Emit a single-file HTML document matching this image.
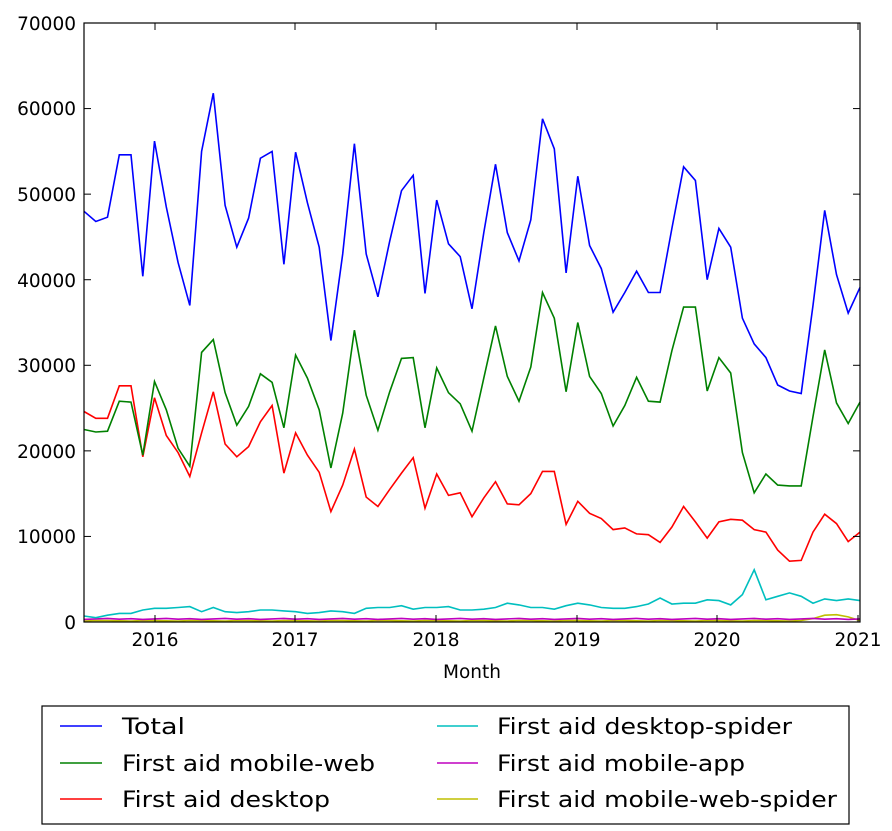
<!DOCTYPE html>
<html><head><meta charset="utf-8"><style>
body{margin:0;background:#fff;}
svg{display:block;font-family:"DejaVu Sans","Liberation Sans",sans-serif;}
</style></head><body>
<svg id="s" width="892" height="831" xmlns="http://www.w3.org/2000/svg">
<rect x="0" y="0" width="892" height="831" fill="#fff"/>
<g id="lines"></g>
<rect x="84" y="23" width="776" height="599" fill="none" stroke="#000" stroke-width="1.2"/>
<g font-size="18.5" fill="#000" text-anchor="end">
<text x="76" y="629">0</text><text x="76" y="543">10000</text><text x="76" y="458">20000</text>
<text x="76" y="372">30000</text><text x="76" y="287">40000</text><text x="76" y="201">50000</text>
<text x="76" y="115">60000</text><text x="76" y="30">70000</text>
</g>
<g font-size="18.5" fill="#000" text-anchor="middle">
<text x="155" y="646">2016</text><text x="295" y="646">2017</text><text x="436" y="646">2018</text>
<text x="577" y="646">2019</text><text x="717" y="646">2020</text><text x="858" y="646">2021</text>
<text x="472" y="678">Month</text>
</g>
<g id="ticks" stroke="#000" stroke-width="1"></g>
<rect x="42" y="706" width="807" height="118" fill="#fff" stroke="#000" stroke-width="1.2"/>
<g font-size="22" fill="#000">
<line x1="60" y1="726" x2="102" y2="726" stroke="#0000ff" stroke-width="1.5"/><text x="122" y="734" textLength="63" lengthAdjust="spacingAndGlyphs">Total</text>
<line x1="60" y1="763" x2="102" y2="763" stroke="#008000" stroke-width="1.5"/><text x="122" y="771" textLength="253" lengthAdjust="spacingAndGlyphs">First aid mobile-web</text>
<line x1="60" y1="799" x2="102" y2="799" stroke="#ff0000" stroke-width="1.5"/><text x="122" y="807" textLength="208" lengthAdjust="spacingAndGlyphs">First aid desktop</text>
<line x1="437" y1="726" x2="478" y2="726" stroke="#00bfbf" stroke-width="1.5"/><text x="497" y="734" textLength="295" lengthAdjust="spacingAndGlyphs">First aid desktop-spider</text>
<line x1="437" y1="763" x2="478" y2="763" stroke="#bf00bf" stroke-width="1.5"/><text x="497" y="771" textLength="248" lengthAdjust="spacingAndGlyphs">First aid mobile-app</text>
<line x1="437" y1="799" x2="478" y2="799" stroke="#bfbf00" stroke-width="1.5"/><text x="497" y="807" textLength="340" lengthAdjust="spacingAndGlyphs">First aid mobile-web-spider</text>
</g>
</svg>
<script>
var T=[48000,46800,47300,54600,54600,40400,56200,48500,42000,37000,55000,61800,48700,43800,47200,54200,55000,41800,54900,49000,43800,32900,43000,55900,43000,38000,44500,50400,52200,38400,49300,44200,42700,36600,45500,53500,45500,42200,47000,58800,55300,40800,52100,44000,41300,36200,38500,41000,38500,38500,46000,53200,51600,40000,46000,43800,35500,32500,30900,27700,27000,26700,37000,48100,40600,36100,39100];
var M=[22500,22200,22300,25800,25700,19500,28100,24800,20300,18200,31500,33000,26800,23000,25200,29000,28000,22700,31200,28500,24800,18000,24400,34100,26500,22400,26900,30800,30900,22700,29700,26800,25500,22300,28500,34600,28700,25800,29800,38500,35500,26900,35000,28700,26700,22900,25300,28600,25800,25700,31700,36800,36800,27000,30900,29100,19800,15100,17300,16000,15900,15900,24000,31800,25600,23200,25700];
var D=[24600,23800,23800,27600,27600,19300,26200,21800,19800,17000,22100,26900,20800,19300,20500,23400,25300,17400,22100,19500,17500,12900,16000,20200,14600,13500,15500,17400,19200,13300,17300,14800,15100,12300,14500,16400,13800,13700,15000,17600,17600,11400,14100,12700,12100,10800,11000,10300,10200,9300,11100,13500,11700,9800,11700,12000,11900,10800,10500,8400,7100,7200,10500,12600,11500,9400,10500];
var S=[700,500,800,1000,1000,1400,1600,1600,1700,1800,1200,1700,1200,1100,1200,1400,1400,1300,1200,1000,1100,1300,1200,1000,1600,1700,1700,1900,1500,1700,1700,1800,1400,1400,1500,1700,2200,2000,1700,1700,1500,1900,2200,2000,1700,1600,1600,1800,2100,2800,2100,2200,2200,2600,2500,2000,3200,6100,2600,3000,3400,3000,2200,2700,2500,2700,2500];
var A=[],W=[];
for(var i=0;i<67;i++){A.push(300+((i*7)%5)*30);W.push(i>=62&&i<=65?[400,800,850,600][i-62]:120+((i*3)%4)*20);}
function pl(d,c){var p=d.map(function(v,i){return (84+i*776/66).toFixed(1)+","+(622-v/70000*599).toFixed(1);}).join(" ");
return '<polyline points="'+p+'" fill="none" stroke="'+c+'" stroke-width="1.6"/>';}
document.getElementById("lines").innerHTML=pl(W,"#bfbf00")+pl(A,"#bf00bf")+pl(S,"#00bfbf")+pl(D,"#ff0000")+pl(M,"#008000")+pl(T,"#0000ff");
var t="";for(var k=0;k<8;k++){var y=622-k*85.57;t+='<line x1="84" y1="'+y+'" x2="91" y2="'+y+'"/><line x1="853" y1="'+y+'" x2="860" y2="'+y+'"/>';}
[155,295,436,577,717,858].forEach(function(x){t+='<line x1="'+x+'" y1="622" x2="'+x+'" y2="615"/><line x1="'+x+'" y1="23" x2="'+x+'" y2="30"/>';});
document.getElementById("ticks").innerHTML=t;
</script>
</body></html>
